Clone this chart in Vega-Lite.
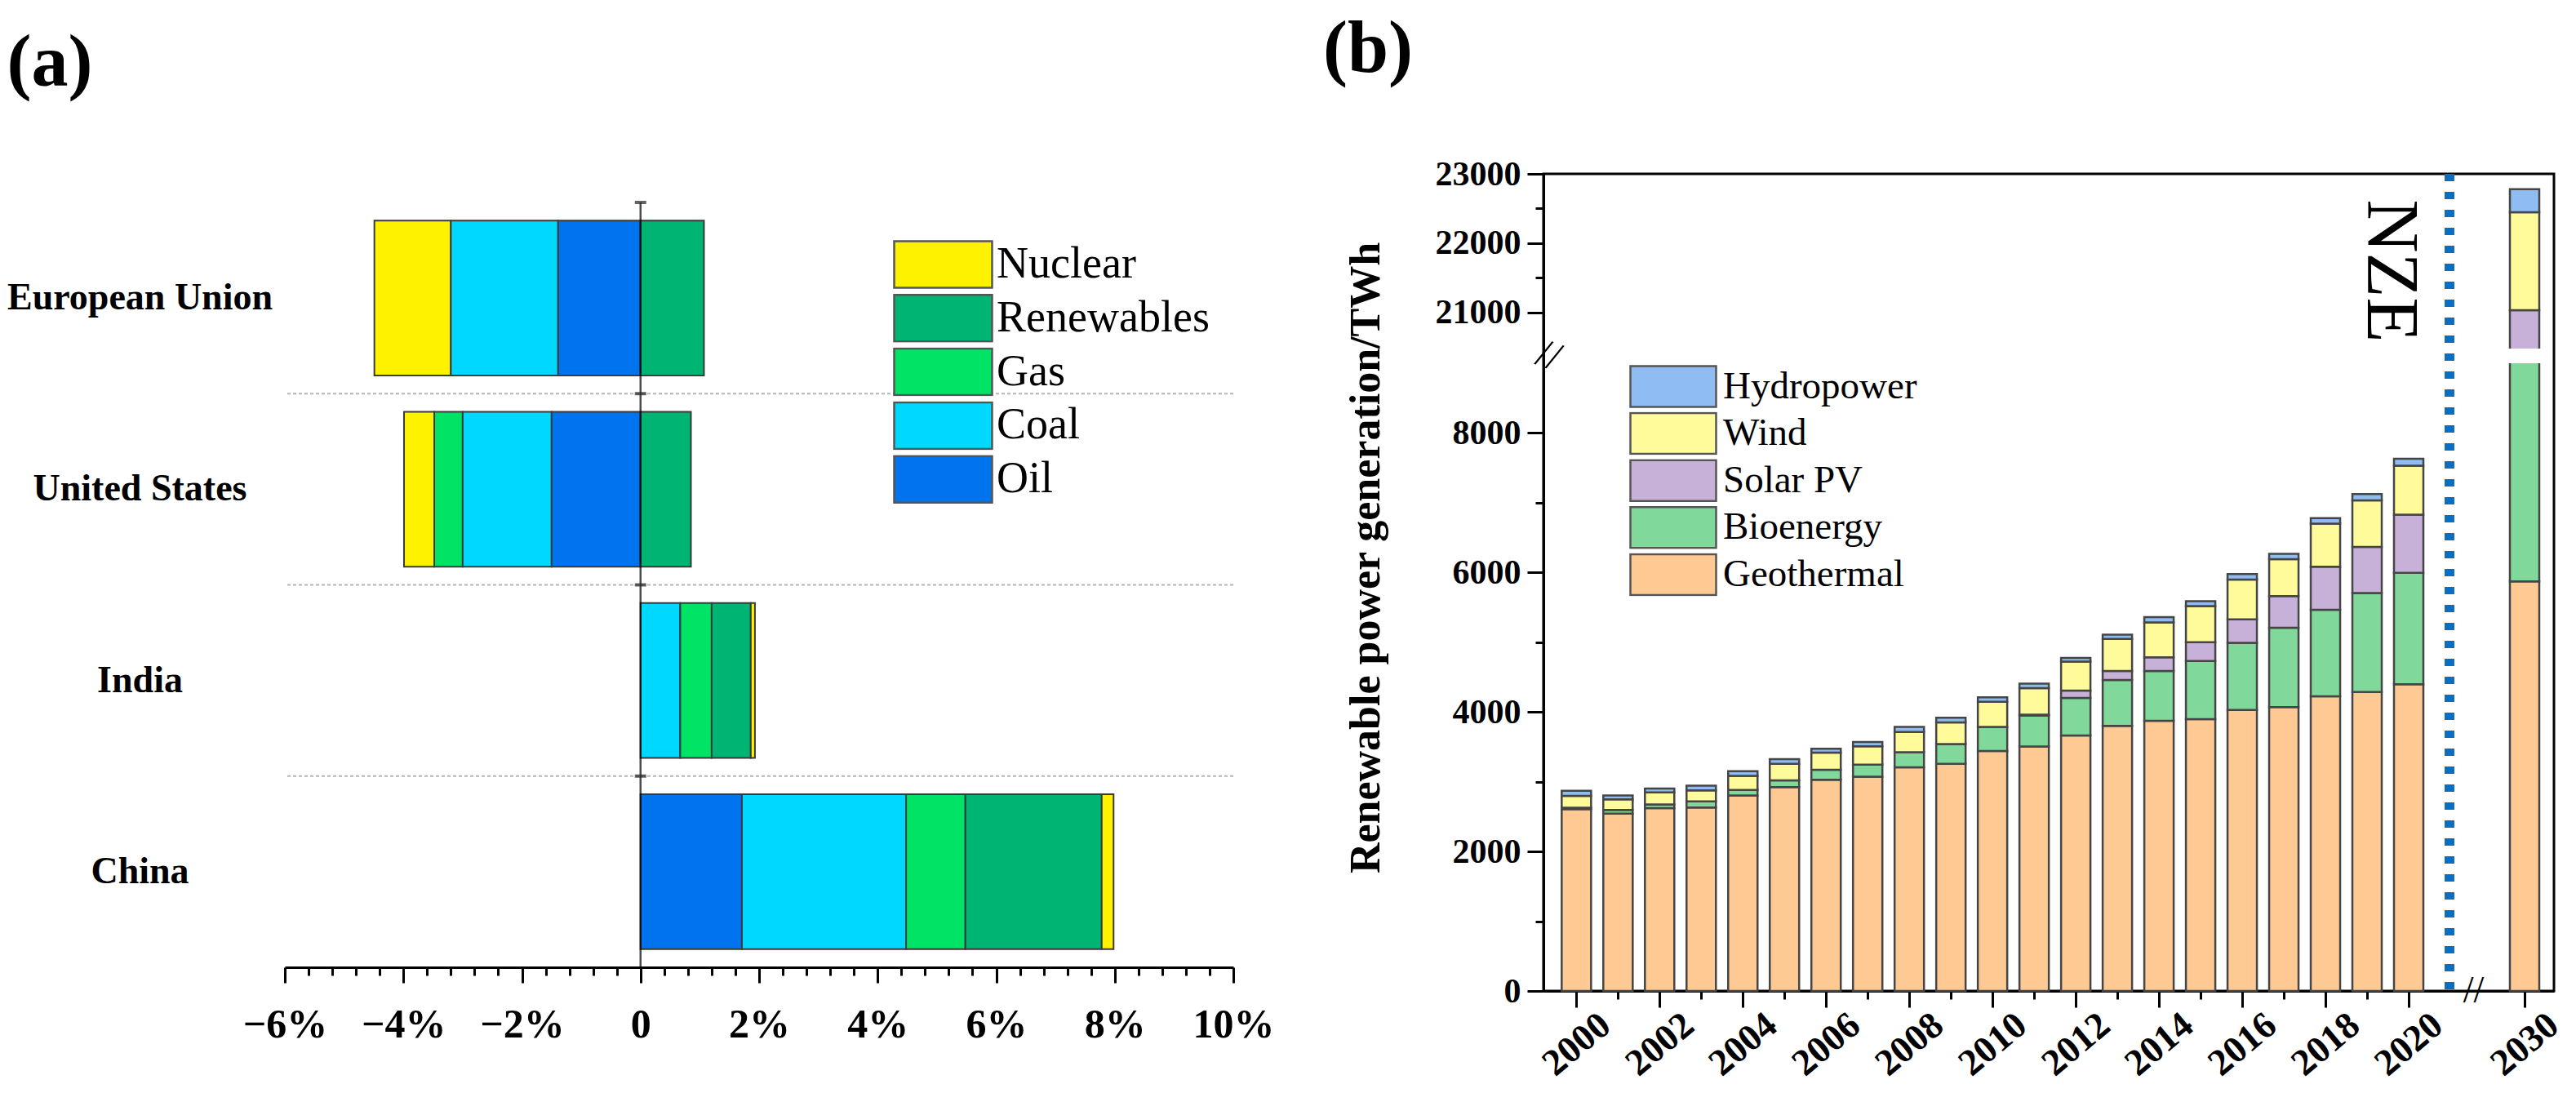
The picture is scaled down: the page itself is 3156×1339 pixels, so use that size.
{
  "$schema": "https://vega.github.io/schema/vega-lite/v6.json",
  "background": "white",
  "padding": {"left": 8, "top": 14, "right": 0, "bottom": 0},
  "config": {
    "font": "Liberation Serif",
    "view": {"stroke": null},
    "concat": {"spacing": 58},
    "axis": {"grid": false, "labelColor": "black", "titleColor": "black", "domainColor": "black", "tickColor": "black", "labelFont": "Liberation Serif", "titleFont": "Liberation Serif", "labelFlush": false, "labelOverlap": false, "labelBound": false},
    "legend": {"labelFont": "Liberation Serif", "labelColor": "black"},
    "title": {"font": "Liberation Serif", "color": "black"}
  },
  "datasets": {
    "energy": [
      {"country": "European Union", "source": "Nuclear", "change": -1.29},
      {"country": "European Union", "source": "Coal", "change": -1.81},
      {"country": "European Union", "source": "Oil", "change": -1.39},
      {"country": "European Union", "source": "Renewables", "change": 1.07},
      {"country": "United States", "source": "Nuclear", "change": -0.51},
      {"country": "United States", "source": "Gas", "change": -0.48},
      {"country": "United States", "source": "Coal", "change": -1.5},
      {"country": "United States", "source": "Oil", "change": -1.5},
      {"country": "United States", "source": "Renewables", "change": 0.85},
      {"country": "India", "source": "Coal", "change": 0.67},
      {"country": "India", "source": "Gas", "change": 0.53},
      {"country": "India", "source": "Renewables", "change": 0.66},
      {"country": "India", "source": "Nuclear", "change": 0.07},
      {"country": "China", "source": "Oil", "change": 1.71},
      {"country": "China", "source": "Coal", "change": 2.77},
      {"country": "China", "source": "Gas", "change": 1.0},
      {"country": "China", "source": "Renewables", "change": 2.3},
      {"country": "China", "source": "Nuclear", "change": 0.2}
    ],
    "separators": [
      {"country": "United States"},
      {"country": "India"},
      {"country": "China"}
    ],
    "bandEdges": [
      {"country": "European Union", "zero": 0},
      {"country": "United States", "zero": 0},
      {"country": "India", "zero": 0},
      {"country": "China", "zero": 0}
    ],
    "renew": [
      {"year": 2000, "tech": "Geothermal", "twh": 2608}, {"year": 2000, "tech": "Bioenergy", "twh": 20}, {"year": 2000, "tech": "Wind", "twh": 168}, {"year": 2000, "tech": "Hydropower", "twh": 73},
      {"year": 2001, "tech": "Geothermal", "twh": 2544}, {"year": 2001, "tech": "Bioenergy", "twh": 51}, {"year": 2001, "tech": "Wind", "twh": 152}, {"year": 2001, "tech": "Hydropower", "twh": 56},
      {"year": 2002, "tech": "Geothermal", "twh": 2621}, {"year": 2002, "tech": "Bioenergy", "twh": 53}, {"year": 2002, "tech": "Wind", "twh": 173}, {"year": 2002, "tech": "Hydropower", "twh": 56},
      {"year": 2003, "tech": "Geothermal", "twh": 2630}, {"year": 2003, "tech": "Bioenergy", "twh": 87}, {"year": 2003, "tech": "Wind", "twh": 160}, {"year": 2003, "tech": "Hydropower", "twh": 65},
      {"year": 2004, "tech": "Geothermal", "twh": 2803}, {"year": 2004, "tech": "Bioenergy", "twh": 79}, {"year": 2004, "tech": "Wind", "twh": 202}, {"year": 2004, "tech": "Hydropower", "twh": 66},
      {"year": 2005, "tech": "Geothermal", "twh": 2924}, {"year": 2005, "tech": "Bioenergy", "twh": 95}, {"year": 2005, "tech": "Wind", "twh": 238}, {"year": 2005, "tech": "Hydropower", "twh": 66},
      {"year": 2006, "tech": "Geothermal", "twh": 3028}, {"year": 2006, "tech": "Bioenergy", "twh": 143}, {"year": 2006, "tech": "Wind", "twh": 247}, {"year": 2006, "tech": "Hydropower", "twh": 56},
      {"year": 2007, "tech": "Geothermal", "twh": 3071}, {"year": 2007, "tech": "Bioenergy", "twh": 173}, {"year": 2007, "tech": "Wind", "twh": 265}, {"year": 2007, "tech": "Hydropower", "twh": 61},
      {"year": 2008, "tech": "Geothermal", "twh": 3206}, {"year": 2008, "tech": "Bioenergy", "twh": 216}, {"year": 2008, "tech": "Wind", "twh": 290}, {"year": 2008, "tech": "Hydropower", "twh": 74},
      {"year": 2009, "tech": "Geothermal", "twh": 3257}, {"year": 2009, "tech": "Bioenergy", "twh": 282}, {"year": 2009, "tech": "Wind", "twh": 311}, {"year": 2009, "tech": "Hydropower", "twh": 69},
      {"year": 2010, "tech": "Geothermal", "twh": 3440}, {"year": 2010, "tech": "Bioenergy", "twh": 346}, {"year": 2010, "tech": "Wind", "twh": 359}, {"year": 2010, "tech": "Hydropower", "twh": 64},
      {"year": 2011, "tech": "Geothermal", "twh": 3506}, {"year": 2011, "tech": "Bioenergy", "twh": 445}, {"year": 2011, "tech": "Solar PV", "twh": 10}, {"year": 2011, "tech": "Wind", "twh": 381}, {"year": 2011, "tech": "Hydropower", "twh": 65},
      {"year": 2012, "tech": "Geothermal", "twh": 3663}, {"year": 2012, "tech": "Bioenergy", "twh": 540}, {"year": 2012, "tech": "Solar PV", "twh": 104}, {"year": 2012, "tech": "Wind", "twh": 416}, {"year": 2012, "tech": "Hydropower", "twh": 51},
      {"year": 2013, "tech": "Geothermal", "twh": 3801}, {"year": 2013, "tech": "Bioenergy", "twh": 657}, {"year": 2013, "tech": "Solar PV", "twh": 130}, {"year": 2013, "tech": "Wind", "twh": 459}, {"year": 2013, "tech": "Hydropower", "twh": 61},
      {"year": 2014, "tech": "Geothermal", "twh": 3875}, {"year": 2014, "tech": "Bioenergy", "twh": 713}, {"year": 2014, "tech": "Solar PV", "twh": 196}, {"year": 2014, "tech": "Wind", "twh": 501}, {"year": 2014, "tech": "Hydropower", "twh": 74},
      {"year": 2015, "tech": "Geothermal", "twh": 3896}, {"year": 2015, "tech": "Bioenergy", "twh": 835}, {"year": 2015, "tech": "Solar PV", "twh": 269}, {"year": 2015, "tech": "Wind", "twh": 519}, {"year": 2015, "tech": "Hydropower", "twh": 69},
      {"year": 2016, "tech": "Geothermal", "twh": 4030}, {"year": 2016, "tech": "Bioenergy", "twh": 961}, {"year": 2016, "tech": "Solar PV", "twh": 338}, {"year": 2016, "tech": "Wind", "twh": 571}, {"year": 2016, "tech": "Hydropower", "twh": 78},
      {"year": 2017, "tech": "Geothermal", "twh": 4070}, {"year": 2017, "tech": "Bioenergy", "twh": 1137}, {"year": 2017, "tech": "Solar PV", "twh": 455}, {"year": 2017, "tech": "Wind", "twh": 528}, {"year": 2017, "tech": "Hydropower", "twh": 78},
      {"year": 2018, "tech": "Geothermal", "twh": 4226}, {"year": 2018, "tech": "Bioenergy", "twh": 1241}, {"year": 2018, "tech": "Solar PV", "twh": 615}, {"year": 2018, "tech": "Wind", "twh": 619}, {"year": 2018, "tech": "Hydropower", "twh": 77},
      {"year": 2019, "tech": "Geothermal", "twh": 4285}, {"year": 2019, "tech": "Bioenergy", "twh": 1420}, {"year": 2019, "tech": "Solar PV", "twh": 662}, {"year": 2019, "tech": "Wind", "twh": 667}, {"year": 2019, "tech": "Hydropower", "twh": 90},
      {"year": 2020, "tech": "Geothermal", "twh": 4399}, {"year": 2020, "tech": "Bioenergy", "twh": 1597}, {"year": 2020, "tech": "Solar PV", "twh": 834}, {"year": 2020, "tech": "Wind", "twh": 701}, {"year": 2020, "tech": "Hydropower", "twh": 99},
      {"year": 2030, "tech": "Geothermal", "twh": 5871}, {"year": 2030, "tech": "Bioenergy", "twh": 7629}, {"year": 2030, "tech": "Solar PV", "twh": 7533}, {"year": 2030, "tech": "Wind", "twh": 1413}, {"year": 2030, "tech": "Hydropower", "twh": 334}
    ],
    "axisGap": [{"year": 2030, "lo": 9000, "hi": 20480}],
    "nzeLine": [{"year": 2023.52}],
    "nzeLabel": [{"year": 2019.55, "twh": 21598, "label": "NZE"}],
    "xBreak": [{"year": 2025.6, "twh": 0, "label": "//"}],
    "yBreak": [{"year": 1999.337, "twh": 14740, "label": "//"}]
  },
  "resolve": {"scale": {"color": "independent", "x": "independent", "y": "independent"}, "legend": {"color": "independent"}},
  "hconcat": [
    {
      "width": 1162,
      "height": 972,
      "title": {"text": "(a)", "anchor": "start", "frame": "bounds", "fontSize": 90, "fontWeight": "bold", "offset": 89},
      "resolve": {"axis": {"x": "independent"}},
      "layer": [
        {
          "data": {"name": "separators"},
          "mark": {"type": "rule", "color": "#b5b5b5", "strokeDash": [4, 3], "strokeWidth": 2},
          "encoding": {
            "y": {"field": "country", "type": "nominal", "bandPosition": 0, "sort": ["European Union", "United States", "India", "China"]}
          }
        },
        {
          "data": {"name": "energy"},
          "transform": [{"calculate": "indexof(['Oil','Coal','Gas','Renewables','Nuclear'], datum.source)", "as": "ord"}],
          "mark": {"type": "bar", "height": {"band": 0.81}, "stroke": "#3a3a3a", "strokeWidth": 2},
          "encoding": {
            "y": {
              "field": "country", "type": "nominal",
              "sort": ["European Union", "United States", "India", "China"],
              "scale": {"paddingInner": 0, "paddingOuter": 0.0747, "align": 1},
              "axis": {"title": null, "domain": false, "ticks": false, "tickSize": 0, "labelAlign": "center", "labelPadding": 178, "labelFontSize": 46, "labelFontWeight": "bold", "labelLimit": 0, "labelOverlap": false}
            },
            "x": {
              "field": "change", "type": "quantitative",
              "scale": {"domain": [-6, 10], "nice": false, "zero": false},
              "axis": {
                "title": null, "orient": "bottom",
                "values": [-6, -4, -2, 0, 2, 4, 6, 8, 10],
                "labelExpr": "datum.value == 0 ? '0' : (datum.value < 0 ? '−' + abs(datum.value) + '%' : datum.value + '%')",
                "tickSize": 19, "tickWidth": 3, "domainWidth": 3,
                "labelOverlap": false, "labelFlush": false,
                "labelFontSize": 50, "labelFontWeight": "bold", "labelPadding": 26
              }
            },
            "color": {
              "field": "source", "type": "nominal",
              "scale": {"domain": ["Nuclear", "Renewables", "Gas", "Coal", "Oil"], "range": ["#FFF200", "#00B473", "#00E466", "#00D8FF", "#0073EE"]},
              "legend": {"title": null, "orient": "none", "legendX": 745, "legendY": 81, "symbolType": "M-1,-0.7125H2V0.7125H-1Z", "symbolSize": 6400, "symbolStrokeColor": "#555555", "symbolStrokeWidth": 2.5, "symbolOpacity": 1, "labelFontSize": 54, "labelOffset": 44, "clipHeight": 60, "rowPadding": 5.8, "labelLimit": 0}
            },
            "order": {"field": "ord"}
          }
        },
        {
          "data": {"name": "bandEdges"},
          "mark": {"type": "tick", "size": 234.25, "thickness": 2.5, "color": "black"},
          "encoding": {
            "x": {
              "field": "zero", "type": "quantitative",
              "axis": {
                "title": null, "labels": false, "domain": false, "orient": "bottom",
                "values": [-5.6, -5.2, -4.8, -4.4, -3.6, -3.2, -2.8, -2.4, -1.6, -1.2, -0.8, -0.4, 0.4, 0.8, 1.2, 1.6, 2.4, 2.8, 3.2, 3.6, 4.4, 4.8, 5.2, 5.6, 6.4, 6.8, 7.2, 7.6, 8.4, 8.8, 9.2, 9.6],
                "tickSize": 10, "tickWidth": 3
              }
            },
            "y": {"field": "country", "type": "nominal", "sort": ["European Union", "United States", "India", "China"]}
          }
        },
        {
          "data": {"name": "bandEdges"},
          "mark": {"type": "tick", "orient": "horizontal", "size": 14, "thickness": 4, "color": "#222222"},
          "encoding": {
            "x": {"field": "zero", "type": "quantitative", "axis": null},
            "y": {"field": "country", "type": "nominal", "bandPosition": 0, "sort": ["European Union", "United States", "India", "China"]}
          }
        }
      ]
    },
    {
      "width": 1238,
      "height": 1001,
      "view": {"stroke": "black", "strokeWidth": 3},
      "title": {"text": "(b)", "anchor": "start", "frame": "bounds", "fontSize": 90, "fontWeight": "bold", "offset": 85, "dx": -26},
      "layer": [
        {
          "data": {"name": "renew"},
          "transform": [{"calculate": "indexof(['Geothermal','Bioenergy','Solar PV','Wind','Hydropower'], datum.tech)", "as": "ord"}],
          "mark": {"type": "bar", "size": 36, "stroke": "#454545", "strokeWidth": 2.5},
          "encoding": {
            "x": {
              "field": "year", "type": "quantitative",
              "scale": {"domain": [1999.337, 2020, 2030, 2030.7], "range": [0, 1060, 1202, 1238], "nice": false, "zero": false},
              "axis": {
                "title": null,
                "values": [2000, 2001, 2002, 2003, 2004, 2005, 2006, 2007, 2008, 2009, 2010, 2011, 2012, 2013, 2014, 2015, 2016, 2017, 2018, 2019, 2020, 2030],
                "labelExpr": "datum.value % 2 == 0 ? '' + datum.value : ''",
                "tickSize": {"condition": {"test": "datum.value % 2 != 0", "value": 10}, "value": 20},
                "tickWidth": 3, "domainWidth": 3,
                "labelOverlap": false, "labelFlush": false,
                "labelAngle": -40, "labelAlign": "center", "labelBaseline": "middle",
                "labelFontSize": 46, "labelFontWeight": "bold", "labelPadding": 45
              }
            },
            "y": {
              "field": "twh", "type": "quantitative", "stack": "zero",
              "scale": {"domain": [0, 9000, 20480, 23000], "range": [1001, 232, 214, 0], "nice": false, "zero": false},
              "axis": {
                "title": "Renewable power generation/TWh",
                "titleFontSize": 52, "titleFontWeight": "bold", "titlePadding": 58, "titleY": 470,
                "values": [0, 1000, 2000, 3000, 4000, 5000, 6000, 7000, 8000, 21000, 21500, 22000, 22500, 23000],
                "labelExpr": "((datum.value < 10000 && datum.value % 2000 != 0) || (datum.value > 10000 && datum.value % 1000 != 0)) ? '' : '' + datum.value",
                "tickSize": {"condition": {"test": "(datum.value < 10000 && datum.value % 2000 != 0) || (datum.value > 10000 && datum.value % 1000 != 0)", "value": 10}, "value": 20},
                "tickWidth": 3, "domainWidth": 3,
                "labelOverlap": false, "labelFlush": false,
                "labelFontSize": 42, "labelFontWeight": "bold", "labelPadding": 8
              }
            },
            "color": {
              "field": "tech", "type": "nominal",
              "scale": {"domain": ["Hydropower", "Wind", "Solar PV", "Bioenergy", "Geothermal"], "range": ["#8EBCF3", "#FFFB9A", "#C8B1D8", "#80D99B", "#FFC993"]},
              "legend": {"title": null, "orient": "none", "legendX": 105, "legendY": 234, "symbolType": "M-1,-0.714H2V0.714H-1Z", "symbolSize": 4900, "symbolStrokeColor": "#555555", "symbolStrokeWidth": 2.5, "symbolOpacity": 1, "labelFontSize": 47, "labelOffset": 42, "clipHeight": 53, "rowPadding": 4.6, "labelLimit": 0}
            },
            "order": {"field": "ord"}
          }
        },
        {
          "data": {"name": "axisGap"},
          "mark": {"type": "bar", "size": 46, "color": "white", "strokeWidth": 0},
          "encoding": {
            "x": {"field": "year", "type": "quantitative"},
            "y": {"field": "lo", "type": "quantitative"},
            "y2": {"field": "hi"}
          }
        },
        {
          "data": {"name": "nzeLine"},
          "mark": {"type": "rule", "color": "#0A6FC2", "strokeWidth": 12, "strokeDash": [9, 13]},
          "encoding": {"x": {"field": "year", "type": "quantitative"}}
        },
        {
          "data": {"name": "nzeLabel"},
          "mark": {"type": "text", "angle": 90, "fontSize": 90, "align": "center", "baseline": "middle", "color": "black"},
          "encoding": {
            "x": {"field": "year", "type": "quantitative"},
            "y": {"field": "twh", "type": "quantitative"},
            "text": {"field": "label"}
          }
        },
        {
          "data": {"name": "xBreak"},
          "mark": {"type": "text", "fontSize": 46, "align": "center", "baseline": "middle", "color": "black"},
          "encoding": {
            "x": {"field": "year", "type": "quantitative"},
            "y": {"field": "twh", "type": "quantitative"},
            "text": {"field": "label"}
          }
        },
        {
          "data": {"name": "yBreak"},
          "mark": {"type": "text", "fontSize": 50, "angle": 20, "align": "center", "baseline": "middle", "color": "black"},
          "encoding": {
            "x": {"field": "year", "type": "quantitative"},
            "y": {"field": "twh", "type": "quantitative"},
            "text": {"field": "label"}
          }
        }
      ]
    }
  ]
}
